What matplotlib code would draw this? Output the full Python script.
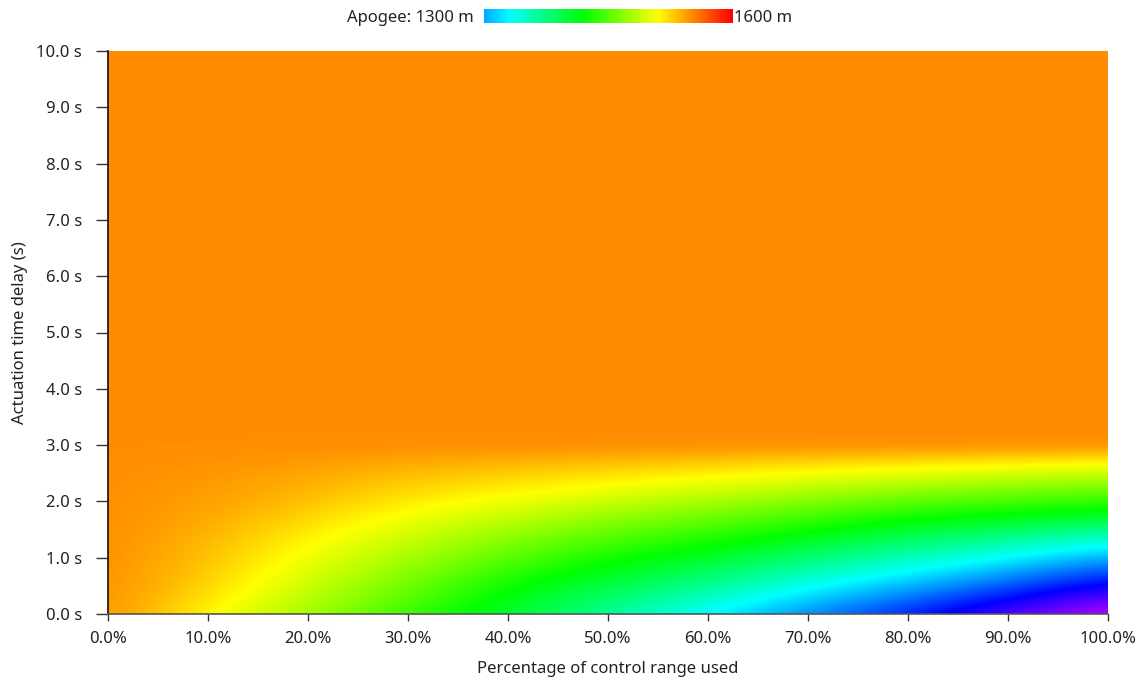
import numpy as np
import matplotlib
matplotlib.use('Agg')
import matplotlib.pyplot as plt
from matplotlib.colors import ListedColormap, Normalize, hsv_to_rgb

plt.rcParams['font.family'] = ['Noto Sans', 'DejaVu Sans']

# %% data (apogee in m)
control_pct = [0, 10, 20, 30, 40, 50, 60, 70, 80, 90, 100]
delay_s = [0.0, 0.25, 0.5, 0.75, 1.0, 1.25, 1.5, 1.75, 2.0, 2.25, 2.5, 2.75, 3.0]
plateau = 1550   # apogee for delays above ~3 s

# one list per control column, bottom (0 s) to top (3 s)
ap_0 = [1550, 1550, 1550, 1550, 1550, 1550, 1550, 1550, 1550, 1550, 1550, 1550, 1550]
ap_10 = [1512, 1519, 1525, 1529, 1532, 1535, 1538, 1541, 1543, 1545, 1547, 1549, 1550]
ap_20 = [1477, 1484, 1491, 1498, 1505, 1511, 1518, 1526, 1532, 1537, 1541, 1546, 1550]
ap_30 = [1441, 1450, 1460, 1469, 1478, 1488, 1497, 1506, 1516, 1525, 1533, 1542, 1550]
ap_40 = [1404, 1413, 1423, 1437, 1451, 1464, 1478, 1491, 1505, 1517, 1528, 1539, 1550]
ap_50 = [1366, 1381, 1396, 1411, 1426, 1442, 1458, 1474, 1491, 1507, 1521, 1536, 1550]
ap_60 = [1329, 1348, 1368, 1387, 1406, 1425, 1443, 1461, 1479, 1498, 1515, 1533, 1550]
ap_70 = [1290, 1312, 1334, 1357, 1380, 1402, 1424, 1445, 1466, 1487, 1508, 1529, 1550]
ap_80 = [1252, 1278, 1304, 1330, 1354, 1379, 1403, 1428, 1452, 1477, 1502, 1526, 1550]
ap_90 = [1211, 1240, 1270, 1300, 1330, 1359, 1388, 1418, 1444, 1470, 1496, 1523, 1550]
ap_100 = [1170, 1201, 1231, 1264, 1298, 1333, 1369, 1406, 1436, 1463, 1490, 1519, 1550]

xticks = [0, 10, 20, 30, 40, 50, 60, 70, 80, 90, 100]
yticks = [0, 1, 2, 3, 4, 5, 6, 7, 8, 9, 10]

# %% rainbow: hue 200 deg at 1300 m down to 0 deg at 1600 m, continued below 1300
vmin, vmax = 1150, 1600
hues = np.linspace(vmax - vmin, 0, 512) / 1.5 / 360.0
hsv = np.stack([hues, np.ones_like(hues), np.ones_like(hues)], axis=1)
cmap = ListedColormap(hsv_to_rgb(hsv))
norm = Normalize(vmin=vmin, vmax=vmax)

grid = np.array([ap_0, ap_10, ap_20, ap_30, ap_40, ap_50, ap_60, ap_70,
                 ap_80, ap_90, ap_100]).T

dx = control_pct[1] - control_pct[0]
dy = delay_s[1] - delay_s[0]

fig = plt.figure(figsize=(11.41, 6.82), dpi=100)
ax = fig.add_axes([108/1141, 1-614/682, 1000/1141, 563/682])
ax.set_facecolor(cmap(norm(plateau)))
ax.imshow(grid, cmap=cmap, norm=norm, origin='lower', aspect='auto',
          interpolation='bicubic', interpolation_stage='data',
          extent=[control_pct[0]-dx/2, control_pct[-1]+dx/2,
                  delay_s[0]-dy/2, delay_s[-1]+dy/2])
ax.set_xlim(0, 100)
ax.set_ylim(0, 10)

ax.set_xticks(xticks)
ax.set_xticklabels(['%.1f%%' % t for t in xticks])
ax.set_yticks(yticks)
ax.set_yticklabels(['%.1f s' % t for t in yticks])
ax.tick_params(axis='x', length=5, width=1, color='#333333', pad=7,
               labelsize=12, labelcolor='#222222')
ax.tick_params(axis='y', length=8.6, width=1, color='#333333', pad=10,
               labelsize=12, labelcolor='#222222')
for s in ['top', 'right']:
    ax.spines[s].set_visible(False)
ax.spines['left'].set_color('#111111')
ax.spines['bottom'].set_color('#555555')
ax.spines['left'].set_linewidth(1.2)
ax.spines['bottom'].set_linewidth(1.2)

ax.set_xlabel('Percentage of control range used', fontsize=12,
              color='#222222', labelpad=10)
ax.set_ylabel('Actuation time delay (s)', fontsize=12,
              color='#222222', labelpad=6)

# %% colour scale at the top
cax = fig.add_axes([484/1141, 1-23/682, 249/1141, 14/682])
bar = np.linspace(1300, 1600, 300)[np.newaxis, :]
cax.imshow(bar, cmap=cmap, norm=norm, aspect='auto', extent=[1300, 1600, 0, 1])
cax.axis('off')
fig.text(474/1141, 1-18/682, 'Apogee: 1300 m', ha='right', va='center',
         fontsize=12, color='#222222')
fig.text(734/1141, 1-18/682, '1600 m', ha='left', va='center',
         fontsize=12, color='#222222')

plt.savefig('out.png', dpi=100)
